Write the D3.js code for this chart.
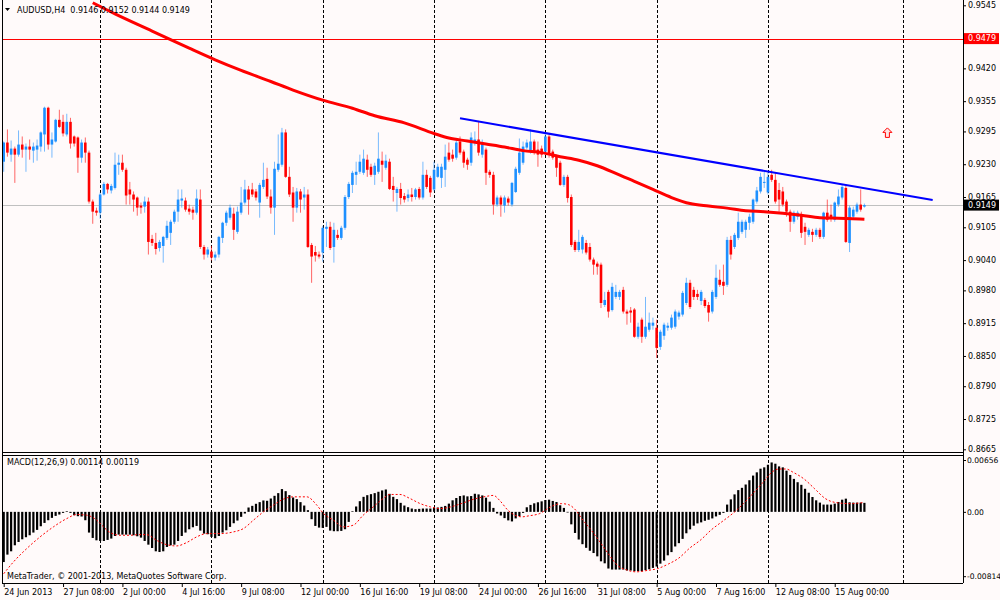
<!DOCTYPE html>
<html>
<head>
<meta charset="utf-8">
<script src="https://cdn.jsdelivr.net/npm/d3@7"></script>
<style>
	body { margin: 0; background: #fffafa; }
	svg { display: block; }
</style>
</head>
<body>
<div id="chart"></div>
<script>
"use strict";

// Units used in the data arrays below
var PIP = 0.0001,
	MACD_UNIT = 0.00001;

// AUDUSD H4 candles, prices in pips (x 0.0001), one entry per bar
var openPips = [
	9235,9273,9249,9261,9249,9269,9259,9265,9257,9259,
	9265,9289,9342,9269,9275,9318,9314,9289,9314,9285,
	9283,9243,9273,9253,9156,9138,9134,9170,9191,9178,
	9183,9229,9233,9219,9180,9170,9164,9148,9146,9156,
	9082,9074,9064,9068,9084,9094,9116,9136,9158,9158,
	9142,9140,9134,9160,9066,9051,9057,9045,9051,9084,
	9114,9124,9132,9096,9134,9154,9180,9180,9176,9154,
	9185,9201,9166,9144,9219,9229,9293,9205,9174,9144,
	9176,9164,9170,9070,9056,9051,9055,9102,9106,9066,
	9090,9084,9104,9165,9189,9209,9215,9213,9239,9225,
	9209,9215,9237,9223,9235,9187,9173,9181,9167,9163,
	9170,9165,9181,9164,9209,9203,9180,9205,9203,9219,
	9253,9249,9243,9275,9255,9239,9233,9273,9279,9249,
	9259,9215,9209,9150,9164,9148,9162,9150,9175,9213,
	9233,9263,9255,9275,9259,9261,9255,9285,9255,9245,
	9233,9189,9205,9165,9076,9060,9061,9074,9066,9041,
	9033,9031,8951,8977,8941,8967,8967,8981,8938,8940,
	8942,8888,8922,8888,8902,8910,8906,8868,8890,8906,
	8906,8908,8928,8932,8955,8995,8981,8973,8959,8961,
	8951,8938,8967,9001,8997,8991,9080,9066,9084,9096,
	9100,9114,9116,9156,9176,9193,9174,9209,9199,9179,
	9176,9156,9136,9116,9126,9130,9106,9090,9096,9090,
	9100,9086,9134,9130,9120,9150,9164,9183,9074,9126,
	9136,9150,9146
];

var highPips = [
	9275,9299,9277,9265,9297,9285,9271,9279,9273,9279,
	9295,9344,9344,9293,9320,9338,9328,9330,9322,9287,
	9285,9279,9283,9257,9160,9144,9174,9195,9193,9191,
	9253,9249,9249,9223,9195,9176,9166,9154,9166,9164,
	9090,9094,9080,9088,9118,9120,9140,9180,9180,9164,
	9150,9146,9180,9180,9070,9066,9068,9057,9088,9116,
	9138,9150,9144,9146,9185,9199,9187,9193,9181,9193,
	9233,9223,9180,9235,9289,9302,9299,9225,9185,9183,
	9181,9185,9180,9074,9068,9057,9108,9116,9116,9114,
	9100,9108,9169,9195,9217,9235,9249,9259,9249,9231,
	9233,9293,9255,9249,9241,9205,9185,9193,9173,9180,
	9183,9183,9185,9235,9219,9207,9235,9231,9231,9269,
	9273,9259,9279,9285,9259,9243,9293,9295,9316,9279,
	9263,9219,9215,9168,9168,9168,9166,9195,9225,9281,
	9275,9279,9299,9279,9275,9267,9293,9289,9259,9249,
	9237,9209,9209,9170,9080,9100,9090,9080,9074,9045,
	9037,9035,8977,8981,8995,8991,8981,8987,8942,8947,
	8945,8916,8926,8967,8936,8926,8922,8902,8916,8916,
	8932,8942,8940,8979,9005,9001,8987,8981,8981,8965,
	8957,8981,9031,9021,9031,9086,9088,9094,9134,9120,
	9120,9132,9162,9185,9213,9215,9215,9219,9213,9193,
	9185,9160,9140,9138,9138,9136,9114,9104,9102,9104,
	9104,9136,9160,9150,9156,9180,9189,9187,9148,9146,
	9154,9180,9152
];

var lowPips = [
	9215,9245,9235,9193,9245,9243,9215,9239,9233,9237,
	9255,9255,9259,9243,9273,9302,9285,9285,9261,9265,
	9213,9233,9233,9152,9112,9128,9122,9168,9172,9172,
	9180,9209,9215,9150,9150,9136,9128,9132,9134,9051,
	9068,9051,9057,9035,9080,9070,9112,9116,9144,9136,
	9130,9120,9130,9062,9041,9045,9039,9039,9045,9074,
	9108,9120,9080,9092,9130,9150,9130,9165,9158,9124,
	9181,9161,9132,9090,9215,9225,9203,9165,9116,9134,
	9134,9140,9064,8995,9037,9043,9037,9066,9060,9035,
	9080,9080,9100,9161,9173,9189,9211,9209,9205,9205,
	9189,9211,9195,9219,9179,9156,9136,9150,9154,9156,
	9156,9160,9160,9160,9181,9165,9176,9203,9183,9185,
	9235,9235,9239,9249,9223,9219,9227,9267,9247,9243,
	9189,9203,9130,9146,9126,9134,9148,9146,9173,9209,
	9229,9259,9251,9249,9225,9243,9251,9243,9239,9205,
	9187,9185,9154,9066,9056,9056,9053,9051,9037,9011,
	9011,8945,8947,8926,8938,8963,8961,8934,8912,8916,
	8886,8884,8876,8884,8898,8902,8846,8862,8882,8900,
	8902,8904,8922,8928,8951,8943,8961,8961,8951,8945,
	8918,8934,8963,8987,8971,8987,9041,9062,9080,9092,
	9084,9100,9112,9152,9172,9183,9170,9195,9152,9136,
	9146,9126,9096,9112,9120,9084,9070,9086,9076,9086,
	9082,9082,9116,9116,9116,9146,9160,9074,9056,9122,
	9132,9136,9144
];

var closePips = [
	9273,9253,9261,9249,9269,9259,9265,9259,9265,9267,
	9293,9342,9269,9279,9318,9304,9291,9314,9271,9271,
	9243,9273,9253,9156,9136,9134,9170,9191,9180,9187,
	9229,9233,9219,9168,9170,9160,9144,9144,9156,9076,
	9074,9062,9076,9086,9108,9116,9136,9160,9162,9140,
	9136,9134,9162,9066,9051,9061,9045,9051,9086,9114,
	9134,9144,9100,9136,9154,9180,9160,9170,9164,9189,
	9199,9166,9144,9221,9231,9293,9205,9170,9144,9176,
	9160,9170,9066,9047,9049,9047,9104,9106,9064,9100,
	9084,9104,9165,9191,9213,9215,9235,9241,9219,9209,
	9227,9241,9229,9237,9181,9179,9181,9163,9160,9170,
	9165,9180,9164,9209,9185,9174,9219,9225,9225,9245,
	9239,9241,9273,9253,9233,9229,9283,9279,9253,9273,
	9213,9209,9150,9164,9150,9164,9154,9193,9221,9253,
	9265,9273,9275,9253,9249,9249,9285,9249,9243,9223,
	9189,9205,9163,9070,9060,9076,9086,9055,9041,9031,
	9027,8955,8961,8938,8987,8977,8977,8938,8934,8936,
	8888,8908,8888,8908,8916,8916,8866,8898,8912,8910,
	8926,8938,8936,8975,8995,8947,8967,8967,8977,8949,
	8936,8977,9005,8991,8989,9080,9051,9090,9116,9116,
	9116,9126,9160,9178,9205,9195,9205,9199,9156,9160,
	9150,9136,9116,9134,9134,9094,9096,9100,9090,9100,
	9086,9134,9120,9124,9154,9166,9185,9076,9144,9140,
	9150,9140,9149
];

// Moving average (thick red line), read at sample bars, in pips
var maBars = [24,30,40,50,57,64,72,78,86,94,100,108,116,120,125,130,135,140,145,150,155,160,165,170,175,180,185,190,195,200,205,210,215,220,225,232];
var maPips = [9550,9528,9494,9460,9437,9416,9394,9377,9357,9341,9326,9312,9291,9282,9276,9270,9264,9257,9253,9245,9238,9227,9212,9196,9180,9164,9152,9147,9143,9138,9136,9133,9129,9124,9123,9121];

// Trend line (blue), two anchor points
var trendBars = [123, 250.4];
var trendPips = [9321, 9159];

// MACD(12,26,9) main histogram, one per bar, in 0.00001 units
var macdMain = [
	-635,-541,-499,-423,-381,-347,-321,-296,-262,-228,
	-182,-140,-106,-76,-51,-34,-13,8,-13,-42,
	-55,-59,-106,-262,-330,-360,-368,-368,-355,-338,
	-305,-288,-288,-288,-288,-296,-309,-326,-368,-415,
	-457,-499,-508,-499,-444,-423,-415,-368,-305,-262,
	-220,-195,-178,-237,-275,-283,-317,-334,-305,-262,
	-233,-190,-144,-110,-63,-21,55,76,102,123,
	144,140,169,203,237,288,262,212,182,161,
	123,80,21,-93,-178,-199,-203,-190,-237,-245,
	-245,-241,-220,-127,8,68,135,190,211,224,
	237,254,271,283,228,190,161,114,80,59,
	42,34,38,42,42,42,51,55,63,75,
	104,146,175,200,208,196,200,229,221,208,
	179,129,50,-21,-46,-79,-108,-121,-83,-54,
	-13,58,88,108,121,133,150,154,138,125,
	83,50,-8,-158,-267,-350,-409,-455,-492,-521,
	-563,-626,-651,-717,-730,-730,-730,-730,-742,-742,
	-751,-751,-751,-738,-726,-709,-692,-655,-617,-550,
	-509,-438,-396,-342,-271,-221,-175,-146,-133,-113,
	-100,-83,-58,-38,-13,92,158,221,275,304,
	346,400,459,500,546,563,596,625,609,575,
	563,521,467,417,375,342,292,242,188,146,
	117,92,92,92,104,125,154,167,121,117,
	117,117,114
];

// MACD signal line (red dotted), read at sample bars, in 0.00001 units
var signalBars = [0,2.6,6.2,9.8,13.4,17,19.7,22.4,25.1,26.9,28.7,31.4,34,36.7,38.5,41.2,43.9,46.6,49.3,52,54.7,58.3,61.9,64.6,67.3,70,72.7,75.4,78.1,81.7,84.4,86.2,88.9,91.5,94.2,96.9,99.6,102.3,104.1,106.8,109.5,112.2,115,117.6,120.5,123.3,127.2,130.1,132,133.9,135.9,137.8,139.7,141.6,144.5,147.4,150.3,152.2,154.2,156.1,158,160,161.9,163.8,165.7,167.6,170.5,173.4,176.3,179.2,182,184.9,187.9,190.7,193.6,196.5,199.4,202.3,205.1,207,209,210.9,212.8,215.7,218.6,221.5,224.4,228.2,232];
var signalValues = [-783,-635,-465,-317,-190,-85,-34,-42,-106,-190,-262,-296,-296,-288,-288,-360,-415,-431,-389,-317,-275,-275,-254,-212,-106,0,85,161,190,190,85,-21,-106,-190,-169,-42,63,169,220,220,169,106,63,42,63,104,167,196,208,133,21,-42,-63,-50,-21,63,104,92,21,-104,-209,-334,-459,-584,-688,-730,-759,-742,-717,-659,-584,-459,-354,-229,-125,-21,104,250,396,500,542,542,500,417,292,167,117,104,119];

// Axis labels
var priceTicks = [0.9545, 0.9420, 0.9355, 0.9295, 0.9230, 0.9165, 0.9105, 0.9040, 0.8980, 0.8915, 0.8850, 0.8790, 0.8725, 0.8665];
var macdTicks = [0.00656, 0, -0.00814];
var macdTickLabels = ["0.00656", "0.00", "-0.00814"];
var timeTickBars = [0, 16, 32, 48, 64, 80, 96, 112, 128, 144, 160, 176, 192, 208, 224];
var timeLabels = ["24 Jun 2013", "27 Jun 08:00", "2 Jul 00:00", "4 Jul 16:00", "9 Jul 08:00", "12 Jul 00:00", "16 Jul 16:00", "19 Jul 08:00", "24 Jul 00:00", "26 Jul 16:00", "31 Jul 08:00", "5 Aug 00:00", "7 Aug 16:00", "12 Aug 08:00", "15 Aug 00:00"];
var gridBars = [26, 56, 86, 116, 146, 176, 206, 242.3];

// Price levels and annotations
var alertPrice = 0.9479,
	bidPrice = 0.9149,
	arrowBar = 238.2,
	arrowPrice = 0.9302;

var headerText = "AUDUSD,H4  0.9146 0.9152 0.9144 0.9149",
	macdText = "MACD(12,26,9) 0.00114 0.00119",
	copyText = "MetaTrader, \u00a9 2001-2013, MetaQuotes Software Corp.";

// Panel geometry
var frame = {
		left: 2,
		right: 963,
		top: 0,
		mainBottom: 452,
		macdTop: 455,
		macdBottom: 583
	},
	bg = "#fffafa",
	bullColor = "#1e90ff",
	bearColor = "#ff0000",
	font = "DejaVu Sans";

var x = null,
	y = null,
	yMacd = null,
	svg = null;

/**
 * Styles an axis group the MetaTrader way
 */
function styleAxis(g) {
	g.select(".domain").remove();
	g.attr("font-family", font).attr("font-size", 8);
	g.selectAll(".tick line").attr("stroke", "#000");
	g.selectAll(".tick text").attr("fill", "#000");
}

/**
 * Draws the dotted vertical grid for one panel
 */
function drawGrid(top, bottom) {
	svg.append("g")
		.selectAll("line")
		.data(gridBars)
		.enter().append("line")
		.attr("x1", function (d) { return Math.round(x(d)) + 0.5; })
		.attr("x2", function (d) { return Math.round(x(d)) + 0.5; })
		.attr("y1", top)
		.attr("y2", bottom)
		.attr("stroke", "#000")
		.attr("stroke-dasharray", "3,2")
		.attr("stroke-width", 1);
}

/**
 * Builds the whole chart
 */
function drawChart() {
	var n = closePips.length;

	x = d3.scaleLinear().domain([0, 232]).range([3.7, 864.4]);
	y = d3.scaleLinear().domain([0.8665, 0.9545]).range([449.3, 5.3]);
	yMacd = d3.scaleLinear().domain([-0.00814, 0.00656]).range([576.2, 460]);

	svg = d3.select("#chart").append("svg")
		.attr("width", 1000)
		.attr("height", 600);

	svg.append("rect")
		.attr("width", 1000)
		.attr("height", 600)
		.attr("fill", bg);

	var defs = svg.append("defs");
	defs.append("clipPath").attr("id", "clipMain")
		.append("rect")
		.attr("x", frame.left).attr("y", frame.top)
		.attr("width", frame.right - frame.left)
		.attr("height", frame.mainBottom - frame.top);
	defs.append("clipPath").attr("id", "clipMacd")
		.append("rect")
		.attr("x", frame.left).attr("y", frame.macdTop)
		.attr("width", frame.right - frame.left)
		.attr("height", frame.macdBottom - frame.macdTop);

	// Grid
	drawGrid(frame.top, frame.mainBottom);
	drawGrid(frame.macdTop, frame.macdBottom);

	var main = svg.append("g").attr("clip-path", "url(#clipMain)");

	// Alert level and bid line
	main.append("line")
		.attr("x1", 0).attr("x2", frame.right)
		.attr("y1", Math.round(y(alertPrice)) + 0.5)
		.attr("y2", Math.round(y(alertPrice)) + 0.5)
		.attr("stroke", "#ff0000");

	main.append("line")
		.attr("x1", 0).attr("x2", frame.right)
		.attr("y1", Math.round(y(bidPrice)) + 0.5)
		.attr("y2", Math.round(y(bidPrice)) + 0.5)
		.attr("stroke", "#c0c0c0");

	// Candles
	var candles = d3.range(n).map(function (i) {
		return {
			i: i,
			o: openPips[i] * PIP,
			h: highPips[i] * PIP,
			l: lowPips[i] * PIP,
			c: closePips[i] * PIP
		};
	});

	var cg = main.append("g").attr("class", "candles");

	cg.selectAll("line.wick")
		.data(candles)
		.enter().append("line")
		.attr("class", "wick")
		.attr("x1", function (d) { return x(d.i); })
		.attr("x2", function (d) { return x(d.i); })
		.attr("y1", function (d) { return y(d.h); })
		.attr("y2", function (d) { return y(d.l); })
		.attr("stroke", function (d) { return d.c >= d.o ? bullColor : bearColor; })
		.attr("stroke-opacity", 0.6)
		.attr("stroke-width", 1);

	cg.selectAll("rect.body")
		.data(candles)
		.enter().append("rect")
		.attr("class", "body")
		.attr("x", function (d) { return x(d.i) - 1.3; })
		.attr("width", 2.6)
		.attr("y", function (d) { return y(Math.max(d.o, d.c)); })
		.attr("height", function (d) {
			return Math.max(1, Math.abs(y(d.o) - y(d.c)));
		})
		.attr("fill", function (d) { return d.c >= d.o ? bullColor : bearColor; });

	// Moving average
	var maLine = d3.line()
		.x(function (d) { return x(d[0]); })
		.y(function (d) { return y(d[1] * PIP); })
		.curve(d3.curveMonotoneX);

	main.append("path")
		.datum(maBars.map(function (b, i) { return [b, maPips[i]]; }))
		.attr("d", maLine)
		.attr("fill", "none")
		.attr("stroke", "#ff0000")
		.attr("stroke-width", 3)
		.attr("stroke-linejoin", "round");

	// Trend line
	main.append("line")
		.attr("x1", x(trendBars[0]))
		.attr("y1", y(trendPips[0] * PIP))
		.attr("x2", x(trendBars[1]))
		.attr("y2", y(trendPips[1] * PIP))
		.attr("stroke", "#0000ff")
		.attr("stroke-width", 2);

	// Up arrow object
	var ax = x(arrowBar),
		ay = y(arrowPrice);
	main.append("path")
		.attr("d", "M" + ax + "," + ay +
			" l4.5,4.5 h-2.5 v5 h-4 v-5 h-2.5 Z")
		.attr("fill", "#ffe4e4")
		.attr("stroke", "#ff0000")
		.attr("stroke-width", 1);

	// Header
	svg.append("path")
		.attr("d", "M5,8 L10,8 L7.5,11 Z")
		.attr("fill", "#000");
	svg.append("text")
		.attr("x", 17).attr("y", 12.5)
		.attr("font-family", font).attr("font-size", 8)
		.attr("fill", "#000")
		.attr("xml:space", "preserve")
		.text(headerText);

	// MACD panel
	var macdG = svg.append("g").attr("clip-path", "url(#clipMacd)");

	macdG.selectAll("rect.hist")
		.data(macdMain)
		.enter().append("rect")
		.attr("class", "hist")
		.attr("x", function (d, i) { return x(i) - 1.1; })
		.attr("width", 2.2)
		.attr("y", function (d) { return Math.min(yMacd(0), yMacd(d * MACD_UNIT)); })
		.attr("height", function (d) { return Math.abs(yMacd(d * MACD_UNIT) - yMacd(0)); })
		.attr("fill", "#000");

	var sigLine = d3.line()
		.x(function (d) { return x(d[0]); })
		.y(function (d) { return yMacd(d[1] * MACD_UNIT); })
		.curve(d3.curveMonotoneX);

	macdG.append("path")
		.datum(signalBars.map(function (b, i) { return [b, signalValues[i]]; }))
		.attr("d", sigLine)
		.attr("fill", "none")
		.attr("stroke", "#ff0000")
		.attr("stroke-width", 1)
		.attr("stroke-dasharray", "2,2");

	svg.append("text")
		.attr("x", 7).attr("y", 465)
		.attr("font-family", font).attr("font-size", 8)
		.attr("fill", "#000")
		.text(macdText);

	svg.append("text")
		.attr("x", 7).attr("y", 579)
		.attr("font-family", font).attr("font-size", 8)
		.attr("fill", "#000")
		.text(copyText);

	// Frames
	var fr = svg.append("g")
		.attr("stroke", "#000")
		.attr("fill", "none")
		.attr("shape-rendering", "crispEdges");
	fr.append("line").attr("x1", frame.left).attr("x2", frame.left).attr("y1", 0).attr("y2", frame.macdBottom);
	fr.append("line").attr("x1", frame.right).attr("x2", frame.right).attr("y1", 0).attr("y2", frame.macdBottom);
	fr.append("line").attr("x1", frame.left).attr("x2", frame.right).attr("y1", frame.mainBottom).attr("y2", frame.mainBottom);
	fr.append("line").attr("x1", frame.left).attr("x2", frame.right).attr("y1", frame.macdTop).attr("y2", frame.macdTop);
	fr.append("line").attr("x1", frame.left).attr("x2", frame.right).attr("y1", frame.macdBottom).attr("y2", frame.macdBottom);

	// Price axis
	var yAxis = d3.axisRight(y)
		.tickValues(priceTicks)
		.tickFormat(d3.format(".4f"))
		.tickSize(3)
		.tickPadding(2);

	svg.append("g")
		.attr("transform", "translate(" + frame.right + ",0)")
		.call(yAxis)
		.call(styleAxis);

	// MACD axis, slightly smaller so the longest label fits the window
	var mAxis = d3.axisRight(yMacd)
		.tickValues(macdTicks)
		.tickFormat(function (d, i) { return macdTickLabels[i]; })
		.tickSize(3)
		.tickPadding(1);

	svg.append("g")
		.attr("transform", "translate(" + frame.right + ",0)")
		.call(mAxis)
		.call(styleAxis)
		.attr("font-size", 7.6);

	// Price boxes on the axis
	var boxes = [
		{ p: alertPrice, fill: "#ff0000" },
		{ p: bidPrice, fill: "#000000" }
	];
	var bx = svg.selectAll("g.pbox")
		.data(boxes)
		.enter().append("g")
		.attr("class", "pbox");
	bx.append("rect")
		.attr("x", frame.right + 1)
		.attr("y", function (d) { return y(d.p) - 5.5; })
		.attr("width", 35)
		.attr("height", 11)
		.attr("fill", function (d) { return d.fill; });
	bx.append("text")
		.attr("x", frame.right + 5)
		.attr("y", function (d) { return y(d.p); })
		.attr("dy", "0.32em")
		.attr("font-family", font).attr("font-size", 8)
		.attr("fill", "#fff")
		.text(function (d) { return d3.format(".4f")(d.p); });

	// Time axis
	var xAxis = d3.axisBottom(x)
		.tickValues(timeTickBars)
		.tickFormat(function (d, i) { return timeLabels[i]; })
		.tickSize(4);

	var xg = svg.append("g")
		.attr("transform", "translate(0," + frame.macdBottom + ")")
		.call(xAxis)
		.call(styleAxis);

	xg.selectAll(".tick text")
		.attr("text-anchor", "start")
		.attr("y", 12)
		.attr("dy", 0);
}

drawChart();
</script>
</body>
</html>
